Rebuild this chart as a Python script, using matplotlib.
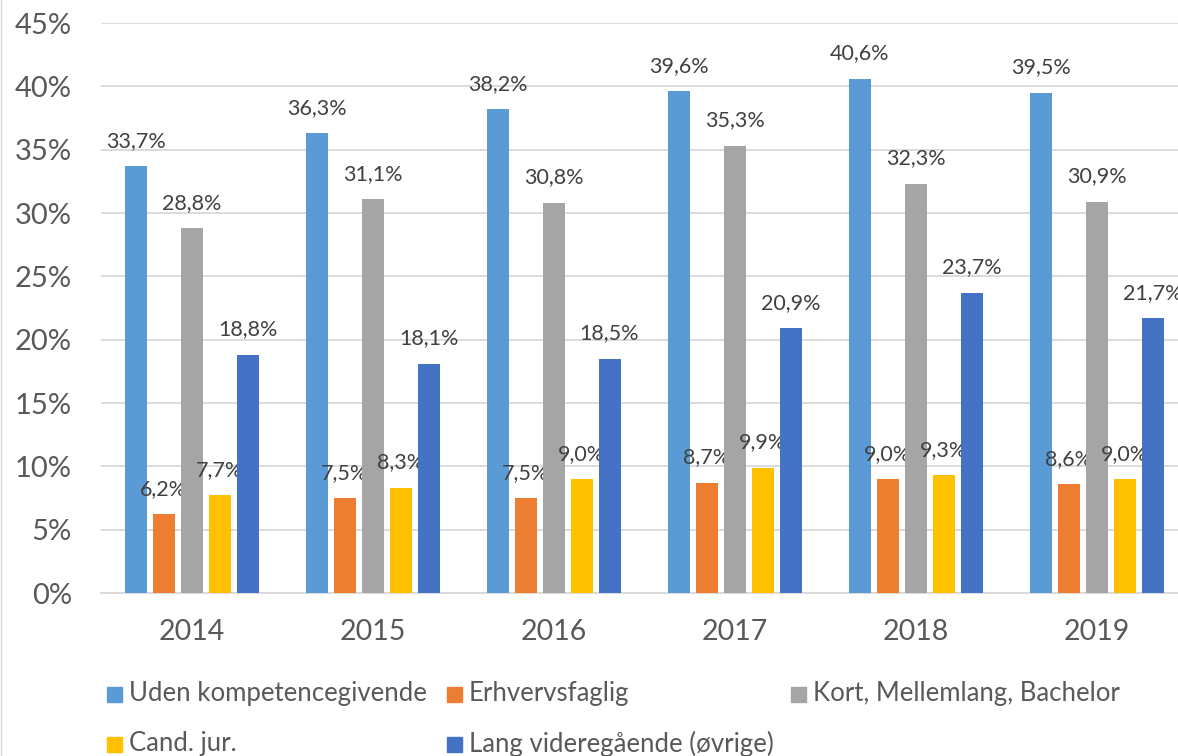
import numpy as np
import matplotlib
matplotlib.use("Agg")
import matplotlib.pyplot as plt
from matplotlib.patches import Rectangle
from matplotlib.lines import Line2D

years = ["2014", "2015", "2016", "2017", "2018", "2019"]
series_names = ["Uden kompetencegivende", "Erhvervsfaglig", "Kort, Mellemlang, Bachelor",
                "Cand. jur.", "Lang videregående (øvrige)"]
uden = [33.7, 36.3, 38.2, 39.6, 40.6, 39.5]
erhverv = [6.2, 7.5, 7.5, 8.7, 9.0, 8.6]
kort = [28.8, 31.1, 30.8, 35.3, 32.3, 30.9]
cand_jur = [7.7, 8.3, 9.0, 9.9, 9.3, 9.0]
lang = [18.8, 18.1, 18.5, 20.9, 23.7, 21.7]
colors = ["#5B9BD5", "#ED7D31", "#A5A5A5", "#FFC000", "#4472C4"]
yticks = [0, 5, 10, 15, 20, 25, 30, 35, 40, 45]

plt.rcParams['font.family'] = ['Lato', 'DejaVu Sans']
text_col = "#595959"

W, H = 1178, 756
fig = plt.figure(figsize=(W / 100, H / 100), dpi=100)
ax = fig.add_axes([101 / W, 1 - 593 / H, 1086 / W, 570 / H])

x = np.arange(len(years))
pitch = 28 / 181
width = 22 / 181
all_series = [uden, erhverv, kort, cand_jur, lang]
for i, (vals, c) in enumerate(zip(all_series, colors)):
    xs = x + (i - 2) * pitch
    ax.bar(xs, vals, width, color=c, zorder=3)
    for xi, v in zip(xs, vals):
        ax.annotate(f"{v:.1f}%".replace(".", ","), (xi, v), xytext=(0, 11),
                    textcoords="offset points", ha="center", va="bottom",
                    fontsize=15.5, color="#404040")

ax.set_xlim(-0.5, len(years) - 0.5)
ax.set_ylim(0, 45)
ax.set_yticks(yticks)
ax.set_yticklabels([f"{t}%" for t in yticks])
ax.set_xticks(x)
ax.set_xticklabels(years)
ax.tick_params(axis="y", length=0, pad=21, labelsize=21, labelcolor=text_col)
ax.tick_params(axis="x", length=0, pad=19, labelsize=20.5, labelcolor=text_col)
ax.grid(axis="y", color="#D9D9D9", linewidth=1.3, zorder=0)
for s in ["top", "right", "left"]:
    ax.spines[s].set_visible(False)
ax.spines["bottom"].set_color("#D9D9D9")
ax.spines["bottom"].set_linewidth(1.3)

# legend entries placed like the original
legend_pos = [(107, 694), (447, 694), (791, 694), (107, 744), (447, 744)]
for name, c, (px, py) in zip(series_names, colors, legend_pos):
    fig.add_artist(Rectangle((px / W, 1 - (py + 8) / H), 15 / W, 15 / H,
                             transform=fig.transFigure, color=c))
    fig.text((px + 22) / W, 1 - py / H, name, ha="left", va="center",
             fontsize=18.5, color=text_col)

fig.add_artist(Line2D([1 / W, 1 / W], [0, 1], transform=fig.transFigure,
                      color="#D9D9D9", linewidth=1))

fig.savefig("out.png", dpi=100)
